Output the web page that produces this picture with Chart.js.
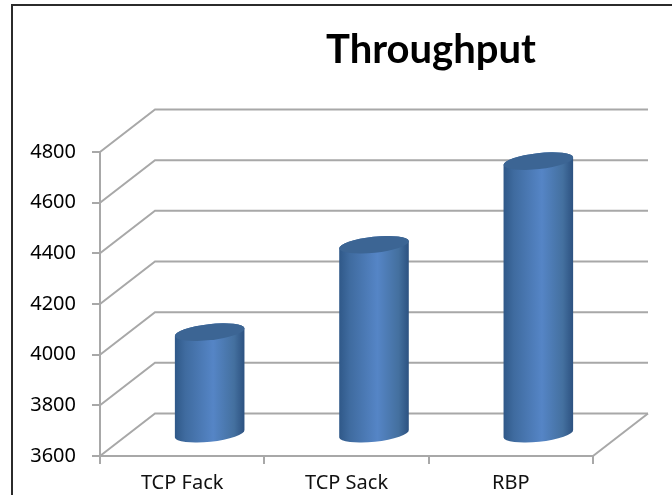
<!DOCTYPE html>
<html>
<head>
<meta charset="utf-8">
<title>Throughput</title>
<script src="https://cdn.jsdelivr.net/npm/chart.js@4/dist/chart.umd.min.js"></script>
<style>
    html, body { margin: 0; padding: 0; background: #fff; }
    #wrap { position: relative; width: 672px; height: 495px; overflow: hidden; }
    #frame { position: absolute; left: 11px; top: 4px; width: 700px; height: 600px; border: 2px solid #2b2b2b; }
    canvas { position: absolute; left: 0; top: 0; }
</style>
</head>
<body>
<div id="wrap">
    <div id="frame"></div>
    <canvas id="throughputChart" width="672" height="495"></canvas>
</div>
<script>
const categories = ['TCP Fack', 'TCP Sack', 'RBP'];
const throughput = [4005, 4350, 4680];
const axisMin = 3600;
const axisMax = 4800;
const axisStep = 200;

// depth of the fake 3D box, front plane to back wall
const depthX = 55;
const depthY = 42.5;
const wallColor = '#a8a8a8';

// back wall, side wall and floor, drawn under the columns
const boxPlugin = {
    id: 'box',
    beforeDatasetsDraw(chart) {
        const { ctx, scales: { x, y } } = chart;
        ctx.save();
        ctx.strokeStyle = wallColor;
        ctx.lineWidth = 2;
        y.ticks.forEach(t => {
            const py = y.getPixelForValue(t.value);
            ctx.beginPath();
            ctx.moveTo(x.left, py);
            ctx.lineTo(x.left + depthX, py - depthY);
            ctx.lineTo(x.right + depthX, py - depthY);
            ctx.stroke();
        });
        ctx.beginPath();
        ctx.moveTo(x.right, y.bottom);
        ctx.lineTo(x.right + depthX, y.bottom - depthY);
        ctx.stroke();
        ctx.restore();
    }
};

// columns sit halfway into the box, tilted ellipses for the caps
const cylinderPlugin = {
    id: 'cylinder',
    beforeDatasetsDraw(chart) {
        const { ctx } = chart;
        const ry = 8;
        const tilt = -0.11;
        chart.getDatasetMeta(0).data.forEach(bar => {
            const cx = bar.x + depthX / 2;
            const rx = bar.width / 2;
            const top = bar.y - depthY / 2;
            const bottom = bar.base - depthY / 2;
            const grad = ctx.createLinearGradient(cx - rx, 0, cx + rx, 0);
            grad.addColorStop(0, '#2f5888');
            grad.addColorStop(0.15, '#3f6b9f');
            grad.addColorStop(0.55, '#5585c6');
            grad.addColorStop(0.85, '#44709f');
            grad.addColorStop(1, '#2c5180');

            ctx.save();
            ctx.fillStyle = grad;
            ctx.beginPath();
            ctx.ellipse(cx, top, rx, ry, tilt, Math.PI, 0, false);
            ctx.ellipse(cx, bottom, rx, ry, tilt, 0, Math.PI, false);
            ctx.closePath();
            ctx.fill();

            ctx.fillStyle = '#3c6594';
            ctx.beginPath();
            ctx.ellipse(cx, top, rx, ry, tilt, 0, Math.PI * 2);
            ctx.fill();
            ctx.restore();
        });
    }
};

// chart heading, centred over the back wall rather than the canvas
const headingPlugin = {
    id: 'heading',
    afterDraw(chart) {
        const { ctx } = chart;
        ctx.save();
        ctx.fillStyle = '#000';
        ctx.font = 'bold 40px Lato';
        ctx.textAlign = 'center';
        ctx.textBaseline = 'alphabetic';
        ctx.fillText('Throughput', 431, 63);
        ctx.restore();
    }
};

const ctx = document.getElementById('throughputChart').getContext('2d');
new Chart(ctx, {
    type: 'bar',
    data: {
        labels: categories,
        datasets: [{
            label: 'Throughput',
            data: throughput,
            base: axisMin,
            backgroundColor: 'transparent',
            borderWidth: 0,
            barThickness: 70
        }]
    },
    options: {
        responsive: false,
        animation: false,
        layout: {
            padding: { left: 0, right: 79, top: 152, bottom: 0 }
        },
        plugins: {
            legend: { display: false },
            tooltip: { enabled: false },
            title: { display: false }
        },
        scales: {
            x: {
                afterFit(scale) { scale.height = 39; },
                grid: { offset: true, drawOnChartArea: false, color: wallColor, tickLength: 8, lineWidth: 2 },
                border: { color: wallColor, width: 2 },
                ticks: {
                    color: '#111',
                    padding: 7,
                    font: { family: 'Noto Sans', size: 20 }
                }
            },
            y: {
                min: axisMin,
                max: axisMax,
                afterFit(scale) { scale.width = 100; },
                grid: { drawOnChartArea: false, color: wallColor, tickLength: 8, lineWidth: 2 },
                border: { color: wallColor, width: 2 },
                ticks: {
                    stepSize: axisStep,
                    color: '#000',
                    padding: 16,
                    font: { family: 'Noto Sans', size: 20 },
                    callback: v => String(v)
                }
            }
        }
    },
    plugins: [boxPlugin, cylinderPlugin, headingPlugin]
});
</script>
</body>
</html>
